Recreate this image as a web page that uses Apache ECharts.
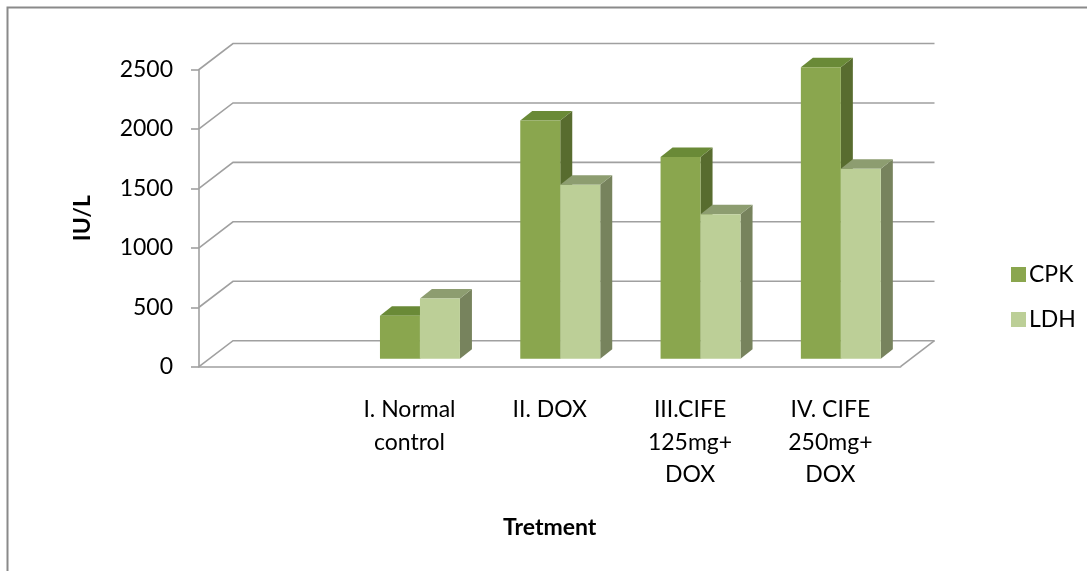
<!DOCTYPE html>
<html>
<head>
<meta charset="utf-8">
<script src="https://cdn.jsdelivr.net/npm/echarts@6/dist/echarts.min.js"></script>
<style>
  html, body { margin: 0; padding: 0; background: #fff; }
  #chart { width: 1087px; height: 571px; }
</style>
</head>
<body>
<div id="chart"></div>
<script>
// Treatment groups (first slot of the floor is left empty)
const categories = ['', 'I. Normal\ncontrol', 'II. DOX', 'III.CIFE\n125mg+\nDOX', 'IV. CIFE\n250mg+\nDOX'];
// Serum enzyme levels, IU/L
const cpkValues = [null, 361, 2003, 1696, 2452];
const ldhValues = [null, 507, 1463, 1216, 1597];
// Value axis ticks
const yTicks = [0, 500, 1000, 1500, 2000, 2500];

const FONT = 'Lato, "Open Sans", sans-serif';
const GRID_COLOR = '#a0a0a0';

// oblique depth of the box (back wall offset) and placement of the columns inside it
const WALL = [34, -26];
const BAR_SHIFT = [10.5, -8];
const BAR_DEPTH = [12, -9.5];
const BAR_FRAC = 0.285;

const faces = {
  CPK: { front: '#8aa64e', top: '#6a8a37', side: '#586c2f' },
  LDH: { front: '#bccf97', top: '#8d9d70', side: '#77835d' }
};

function barRenderer(name, slot) {
  const col = faces[name];
  return function (params, api) {
    const v = api.value(1);
    if (v == null || isNaN(v)) return null;
    const cat = api.value(0);
    const base = api.coord([cat, 0]);
    const top = api.coord([cat, v]);
    const w = api.size([1, 0])[0] * BAR_FRAC;
    const cx = base[0] + BAR_SHIFT[0];
    const x0 = slot === 0 ? cx - w : cx;
    const x1 = x0 + w;
    const yb = base[1] + BAR_SHIFT[1];
    const yt = top[1] + BAR_SHIFT[1];
    const dx = BAR_DEPTH[0], dy = BAR_DEPTH[1];
    return {
      type: 'group',
      children: [
        { type: 'polygon', shape: { points: [[x1, yt], [x1 + dx, yt + dy], [x1 + dx, yb + dy], [x1, yb]] },
          style: { fill: col.side } },
        { type: 'polygon', shape: { points: [[x0, yt], [x1, yt], [x1 + dx, yt + dy], [x0 + dx, yt + dy]] },
          style: { fill: col.top } },
        { type: 'rect', shape: { x: x0, y: yt, width: w, height: yb - yt },
          style: { fill: col.front } }
      ]
    };
  };
}

// back wall gridlines, side-wall diagonals and the floor's right edge
function wallRenderer(params, api) {
  const cs = params.coordSys;
  const v = api.value(1);
  const y = api.coord([0, v])[1];
  const left = cs.x, right = cs.x + cs.width;
  const children = [
    { type: 'polyline',
      shape: { points: [[left, y], [left + WALL[0], y + WALL[1]], [right + WALL[0], y + WALL[1]]] },
      style: { stroke: GRID_COLOR, lineWidth: 1.6, fill: null } }
  ];
  if (v === 0) {
    children.push({ type: 'line',
      shape: { x1: right, y1: y, x2: right + WALL[0], y2: y + WALL[1] },
      style: { stroke: GRID_COLOR, lineWidth: 1.6 } });
  }
  return { type: 'group', children: children };
}

const chart = echarts.init(document.getElementById('chart'), null, { renderer: 'canvas' });

chart.setOption({
  animation: false,
  backgroundColor: '#ffffff',
  grid: { left: 199, right: 186.5, top: 69.5, bottom: 204.3, containLabel: false },
  graphic: [
    { type: 'rect', shape: { x: 7.5, y: 7.5, width: 1200, height: 700 },
      style: { fill: null, stroke: '#8a8a8a', lineWidth: 2 }, silent: true }
  ],
  legend: {
    data: ['CPK', 'LDH'],
    orient: 'vertical',
    left: 1006,
    top: 258,
    icon: 'rect',
    itemWidth: 15,
    itemHeight: 15,
    itemGap: 22,
    selectedMode: false,
    textStyle: { fontFamily: FONT, fontSize: 23, color: '#000', padding: [0, 0, 0, -2] }
  },
  xAxis: {
    type: 'category',
    data: categories,
    name: 'Tretment',
    nameLocation: 'middle',
    nameGap: 149,
    nameTextStyle: { fontFamily: FONT, fontSize: 23, fontWeight: 'bold', color: '#000' },
    axisLine: { show: true, lineStyle: { color: GRID_COLOR, width: 1.6 } },
    axisTick: { show: false },
    axisLabel: { interval: 0, margin: 27, fontFamily: FONT, fontSize: 23, lineHeight: 32.5,
      color: '#000', align: 'center' },
    splitLine: { show: false }
  },
  yAxis: {
    type: 'value',
    min: 0,
    max: 2500,
    interval: 500,
    name: 'IU/L',
    nameLocation: 'middle',
    nameGap: 105,
    nameRotate: 90,
    nameTextStyle: { fontFamily: FONT, fontSize: 23, fontWeight: 'bold', color: '#000' },
    axisLine: { show: true, lineStyle: { color: GRID_COLOR, width: 1.6 } },
    axisTick: { show: true, length: 8, lineStyle: { color: GRID_COLOR, width: 1.6 } },
    axisLabel: { margin: 26, fontFamily: FONT, fontSize: 23, color: '#000',
      formatter: function (v) { return yTicks.indexOf(v) >= 0 ? String(v) : ''; } },
    splitLine: { show: false }
  },
  series: [
    {
      name: 'walls',
      type: 'custom',
      silent: true,
      z: 1,
      renderItem: wallRenderer,
      data: yTicks.map(function (t) { return [0, t]; })
    },
    {
      name: 'CPK',
      type: 'custom',
      z: 2,
      itemStyle: { color: faces.CPK.front },
      renderItem: barRenderer('CPK', 0),
      data: cpkValues.map(function (v, i) { return [i, v]; })
    },
    {
      name: 'LDH',
      type: 'custom',
      z: 2,
      itemStyle: { color: faces.LDH.front },
      renderItem: barRenderer('LDH', 1),
      data: ldhValues.map(function (v, i) { return [i, v]; })
    }
  ]
});
</script>
</body>
</html>
